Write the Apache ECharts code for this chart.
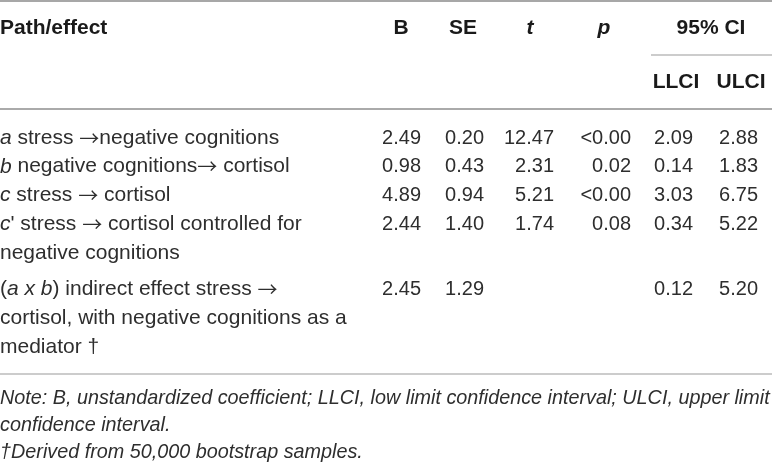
<!DOCTYPE html>
<html>
<head>
<meta charset="utf-8">
<script src="https://cdn.jsdelivr.net/npm/echarts@6/dist/echarts.min.js"></script>
<style>html,body{margin:0;padding:0;background:#fff;}#c{width:772px;height:465px;}</style>
</head>
<body>
<div id="c"></div>
<script>
// ---- table content ----
const headers = ["Path/effect", "B", "SE", "{bi|t}", "{bi|p}", "95% CI"];
const subHeaders = ["LLCI", "ULCI"];
const pathLabels = [
  ["{i|a} stress {ar|\u2192}negative cognitions"],
  ["{i|b} negative cognitions{ar|\u2192} cortisol"],
  ["{i|c} stress {ar|\u2192} cortisol"],
  ["{i|c}' stress {ar|\u2192} cortisol controlled for", "negative cognitions"],
  ["({i|a x b}) indirect effect stress {ar|\u2192}", "cortisol, with negative cognitions as a", "mediator \u2020"]
];
const B = [2.49, 0.98, 4.89, 2.44, 2.45];
const SE = [0.20, 0.43, 0.94, 1.40, 1.29];
const tVals = [12.47, 2.31, 5.21, 1.74, null];
const pVals = ["<0.00", "0.02", "<0.00", "0.08", null];
const LLCI = [2.09, 0.14, 3.03, 0.34, 0.12];
const ULCI = [2.88, 1.83, 6.75, 5.22, 5.20];
const notes = [
  "Note: B, unstandardized coefficient; LLCI, low limit confidence interval; ULCI, upper limit",
  "confidence interval.",
  "\u2020Derived from 50,000 bootstrap samples."
];

// ---- layout ----
const L = {
  W: 772, H: 465,
  headY: 28, subHeadY: 82,
  firstLineY: 138, linePitch: 28.7, rowGap: 8,
  headX: [0, 401, 463, 530, 604, 711],
  subHeadX: [676, 741],
  colRight: [421, 484, 554, 631, 693, 758],
  noteY: [398, 425, 452],
  rules: [[0, 1, 772, '#8a8a8a', 1.6], [651, 55, 772, '#9a9a9a', 1.2], [0, 109, 772, '#aaaaaa', 2], [0, 374, 772, '#9a9a9a', 1.2]]
};
const FONT = '"Liberation Sans", Arial, Helvetica, sans-serif';
const textColor = '#2e2e2e';
const labelSize = 21, numSize = 20, headSize = 21, noteSize = 19.8;
const rich = {
  i: { fontStyle: 'italic', fontSize: labelSize, fontFamily: FONT, fill: textColor, lineHeight: 26 },
  ar: { fontSize: 20, fontFamily: '"Noto Sans CJK SC", sans-serif', fill: textColor, lineHeight: 26 },
  bi: { fontStyle: 'italic', fontWeight: 'bold', fontSize: headSize, fontFamily: FONT, fill: '#1a1a1a' }
};

const cells = [];
headers.forEach((h, k) => cells.push({ x: L.headX[k], y: L.headY, text: h, align: k === 0 ? 'left' : 'center', kind: 'head' }));
subHeaders.forEach((h, k) => cells.push({ x: L.subHeadX[k], y: L.subHeadY, text: h, align: 'center', kind: 'head' }));
const cols = [B, SE, tVals, pVals, LLCI, ULCI];
let lineIdx = 0;
pathLabels.forEach((lines, r) => {
  const rowY = L.firstLineY + lineIdx * L.linePitch + (r >= 4 ? L.rowGap : 0);
  lines.forEach((t, j) => cells.push({ x: 0, y: rowY + j * L.linePitch, text: t, align: 'left', kind: 'label' }));
  cols.forEach((arr, c) => {
    const v = arr[r];
    if (v === null || v === undefined) return;
    cells.push({ x: L.colRight[c], y: rowY, text: typeof v === 'number' ? v.toFixed(2) : v, align: 'right', kind: 'num' });
  });
  lineIdx += lines.length;
});
notes.forEach((n, k) => cells.push({ x: 0, y: L.noteY[k], text: n, align: 'left', kind: 'note' }));

const sizes = { head: headSize, label: labelSize, num: numSize, note: noteSize };
const chart = echarts.init(document.getElementById('c'), null, { renderer: 'canvas' });
chart.setOption({
  animation: false,
  backgroundColor: '#fff',
  grid: { left: 0, right: 0, top: 0, bottom: 0 },
  xAxis: { type: 'value', min: 0, max: L.W, show: false },
  yAxis: { type: 'value', min: 0, max: L.H, inverse: true, show: false },
  series: [
    {
      type: 'custom',
      data: L.rules.map(r => [r[0], r[1], r[2]]),
      renderItem: (params, api) => {
        const r = L.rules[params.dataIndex];
        const p1 = api.coord([api.value(0), api.value(1)]);
        const p2 = api.coord([api.value(2), api.value(1)]);
        return { type: 'line', shape: { x1: p1[0], y1: p1[1], x2: p2[0], y2: p2[1] }, style: { stroke: r[3], lineWidth: r[4] } };
      }
    },
    {
      type: 'custom',
      data: cells.map(c => [c.x, c.y]),
      renderItem: (params, api) => {
        const c = cells[params.dataIndex];
        const p = api.coord([api.value(0), api.value(1)]);
        return {
          type: 'text', x: p[0], y: p[1],
          style: {
            text: c.text, rich: rich,
            fontSize: sizes[c.kind], fontFamily: FONT,
            lineHeight: c.kind === 'label' ? 26 : undefined,
            fontWeight: c.kind === 'head' ? 'bold' : 'normal',
            fontStyle: c.kind === 'note' ? 'italic' : 'normal',
            fill: c.kind === 'head' ? '#1a1a1a' : textColor,
            align: c.align, verticalAlign: 'middle'
          }
        };
      }
    }
  ]
});
</script>
</body>
</html>
